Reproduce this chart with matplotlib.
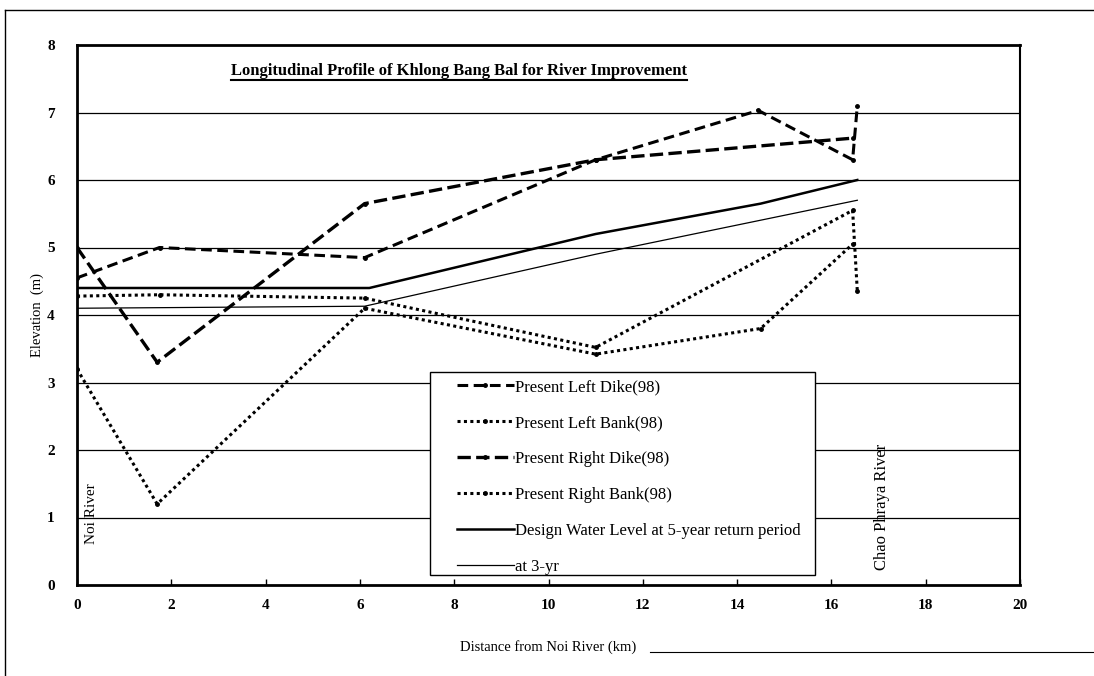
import matplotlib
matplotlib.use("Agg")
import matplotlib.pyplot as plt
from matplotlib.lines import Line2D
from matplotlib.patches import Rectangle

plt.rcParams['font.family'] = ['Liberation Serif', 'DejaVu Serif']

# ---- data ----
left_dike_x = [0, 1.75, 6.1, 11.0, 14.45, 16.45, 16.55]
left_dike_y = [4.55, 5.0, 4.85, 6.3, 7.03, 6.3, 7.1]

left_bank_x = [0, 1.75, 6.1, 11.0, 16.45, 16.55]
left_bank_y = [4.28, 4.3, 4.25, 3.52, 5.55, 4.35]

right_dike_x = [0, 1.7, 6.1, 11.0, 16.45]
right_dike_y = [5.0, 3.3, 5.65, 6.3, 6.62]

right_bank_x = [0, 1.7, 6.1, 11.0, 14.5, 16.45]
right_bank_y = [3.2, 1.2, 4.1, 3.42, 3.8, 5.05]

dwl5_x = [0, 6.2, 11.0, 14.5, 16.55]
dwl5_y = [4.4, 4.4, 5.2, 5.65, 6.0]

dwl3_x = [0, 6.1, 11.0, 16.55]
dwl3_y = [4.1, 4.13, 4.9, 5.7]

labels = ["Present Left Dike(98)", "Present Left Bank(98)", "Present Right Dike(98)",
          "Present Right Bank(98)", "Design Water Level at 5-year return period", "at 3-yr"]
x_ticks = [0, 2, 4, 6, 8, 10, 12, 14, 16, 18, 20]
y_ticks = [0, 1, 2, 3, 4, 5, 6, 7, 8]
title = "Longitudinal Profile of Khlong Bang Bal for River Improvement"

# ---- figure ----
W, H = 1094, 676
fig = plt.figure(figsize=(W / 100, H / 100), dpi=100)
ax_l, ax_r, ax_t, ax_b = 77, 1020, 45, 585
ax = fig.add_axes([ax_l / W, 1 - ax_b / H, (ax_r - ax_l) / W, (ax_b - ax_t) / H])

def afx(px):  # pixel x -> axes fraction
    return (px - ax_l) / (ax_r - ax_l)

def afy(py):  # pixel y -> axes fraction
    return (ax_b - py) / (ax_b - ax_t)

for y in y_ticks[1:-1]:
    ax.axhline(y, color='black', lw=0.9, zorder=1)

dash = (3.5, 1.8)
dot = (1.0, 1.1)
ax.plot(left_dike_x, left_dike_y, color='black', lw=2.2, dashes=dash, marker='o', ms=2.5,
        label=labels[0], zorder=3)
ax.plot(left_bank_x, left_bank_y, color='black', lw=2.2, dashes=dot, marker='o', ms=2.5,
        label=labels[1], zorder=3)
ax.plot(right_dike_x, right_dike_y, color='black', lw=2.4, dashes=(4.0, 1.6), marker='o', ms=2.5,
        label=labels[2], zorder=3)
ax.plot(right_bank_x, right_bank_y, color='black', lw=2.2, dashes=dot, marker='o', ms=2.5,
        label=labels[3], zorder=3)
ax.plot(dwl5_x, dwl5_y, color='black', lw=1.8, label=labels[4], zorder=3)
ax.plot(dwl3_x, dwl3_y, color='black', lw=0.9, label=labels[5], zorder=3)

ax.set_xlim(0, 20)
ax.set_ylim(0, 8)
ax.set_xticks(x_ticks)
ax.set_yticks(y_ticks)
ax.tick_params(axis='x', direction='in', length=4, width=1, pad=10, labelsize=11)
ax.tick_params(axis='y', direction='in', length=0, pad=16, labelsize=11)
for lab in ax.get_xticklabels() + ax.get_yticklabels():
    lab.set_fontweight('bold')

for side in ['left', 'bottom', 'top']:
    ax.spines[side].set_linewidth(2.0)
ax.spines['right'].set_linewidth(1.5)

ax.set_xlabel("Distance from Noi River (km)", fontsize=10.5, labelpad=20)
ax.set_ylabel("Elevation  (m)", fontsize=10.5, labelpad=2)

ttl = ax.text(0.405, 0.952, title, transform=ax.transAxes, ha='center', va='center',
              fontsize=12, fontweight='bold')

ax.text(0.3, 1.05, "Noi River", rotation=90, ha='center', va='center', fontsize=11)
ax.text(17.07, 1.15, "Chao Phraya River", rotation=90, ha='center', va='center', fontsize=12)

# legend frame (wider than the legend content, as in the reference)
frame = Rectangle((afx(430), afy(575)), afx(815) - afx(430), afy(372) - afy(575),
                  transform=ax.transAxes, facecolor='white', edgecolor='black', lw=1.0, zorder=4)
ax.add_patch(frame)
leg = ax.legend(loc='upper left', bbox_to_anchor=(afx(452), afy(374)), frameon=False,
                fontsize=12, labelspacing=1.2, handlelength=3.4, handletextpad=0.1,
                borderpad=0.3, borderaxespad=0)
leg.set_zorder(5)

# underline the title
fig.canvas.draw()
bb = ttl.get_window_extent().transformed(fig.transFigure.inverted())
fig.add_artist(Line2D([bb.x0, bb.x1], [bb.y0 - 0.002, bb.y0 - 0.002], transform=fig.transFigure,
                      color='black', lw=1.5))

# outer page frame
fig.add_artist(Line2D([5 / W, 5 / W], [0, 1 - 10 / H], transform=fig.transFigure, color='black', lw=1))
fig.add_artist(Line2D([5 / W, 1], [1 - 10 / H, 1 - 10 / H], transform=fig.transFigure, color='black', lw=1))
fig.add_artist(Line2D([650 / W, 1], [1 - 652 / H, 1 - 652 / H], transform=fig.transFigure, color='black', lw=0.8))

fig.savefig("out.png", dpi=100, facecolor='white')
